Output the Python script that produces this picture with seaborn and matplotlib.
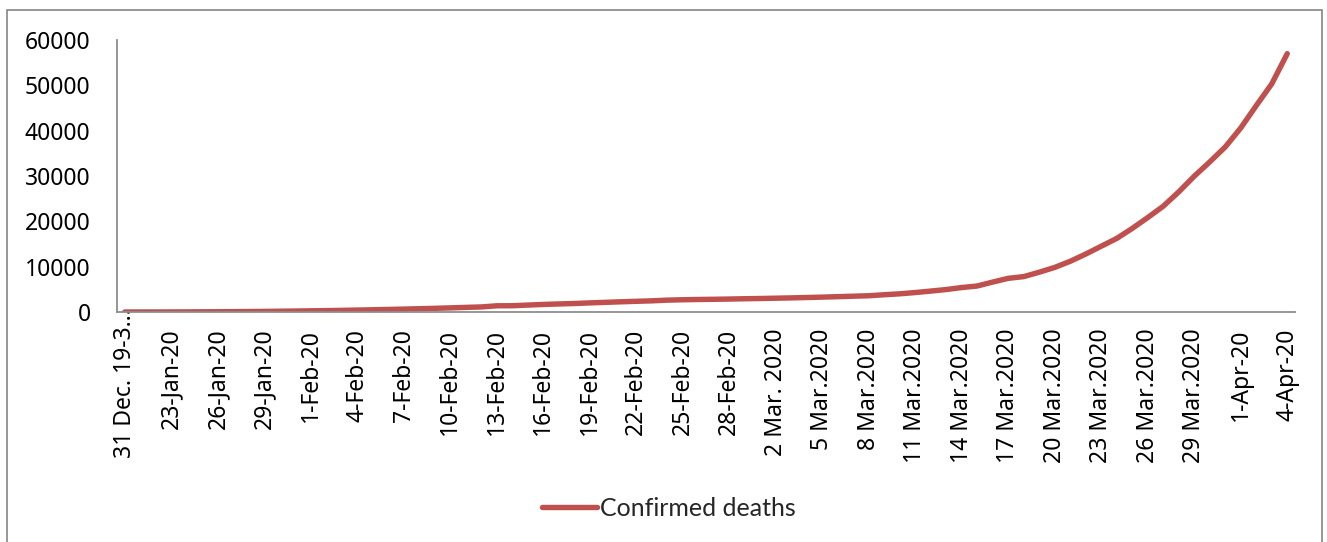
import numpy as np
import pandas as pd
import matplotlib
matplotlib.use("Agg")
import matplotlib.pyplot as plt
from matplotlib.patches import Rectangle
import seaborn as sns

# ---------------- data ----------------
# cumulative confirmed deaths, one value per category (first category is the
# aggregated "31 Dec. 19-3..." bucket, then daily from 21 Jan 2020 to 4 Apr 2020)
deaths = [
    0, 6, 6,
    17, 25, 41, 56, 80, 106, 132, 170, 213,                      # 23-31 Jan
    259, 305, 362, 426, 491, 565, 638, 724, 812, 910,            # 1-10 Feb
    1018, 1115, 1369, 1383, 1526, 1669, 1775, 1873, 2009, 2129,  # 11-20 Feb
    2247, 2359, 2462, 2618, 2700, 2762, 2804, 2858, 2924,        # 21-29 Feb
    2977, 3043, 3112, 3198, 3281, 3380, 3486, 3584, 3809, 4012,  # 1-10 Mar
    4292, 4613, 4955, 5393, 5735, 6606, 7426, 7807, 8778, 9840,  # 11-20 Mar
    11184, 12784, 14510, 16231, 18440, 20834, 23335, 26494,      # 21-28 Mar
    29957, 33106, 36405,                                         # 29-31 Mar
    40598, 45526, 50321, 56985,                                  # 1-4 Apr
]

# category labels that are shown on the axis (every third category)
tick_labels = [
    "31 Dec. 19-3\u2026", "23-Jan-20", "26-Jan-20", "29-Jan-20", "1-Feb-20",
    "4-Feb-20", "7-Feb-20", "10-Feb-20", "13-Feb-20", "16-Feb-20",
    "19-Feb-20", "22-Feb-20", "25-Feb-20", "28-Feb-20", "2 Mar. 2020",
    "5 Mar.2020", "8 Mar.2020", "11 Mar.2020", "14 Mar.2020", "17 Mar.2020",
    "20 Mar.2020", "23 Mar.2020", "26 Mar.2020", "29 Mar.2020", "1-Apr-20",
    "4-Apr-20",
]
label_step = 3
y_ticks = [0, 10000, 20000, 30000, 40000, 50000, 60000]
series_name = "Confirmed deaths"

df = pd.DataFrame({"pos": np.arange(len(deaths)), "deaths": deaths})

# ---------------- figure ----------------
sns.set_theme(style="white")
plt.rcParams["font.family"] = ["Noto Sans", "DejaVu Sans"]

W, H = 1327, 542
fig = plt.figure(figsize=(W / 100, H / 100), dpi=100)
ax = fig.add_axes([117 / W, 1 - 312 / H, (1295 - 117) / W, (312 - 40) / H])

line_color = "#C0504D"
sns.lineplot(data=df, x="pos", y="deaths", ax=ax, color=line_color,
             linewidth=3.9, label=series_name, solid_capstyle="round")

ax.set_xlim(-0.5, len(deaths) - 0.5)
ax.set_ylim(0, 60000)
ax.set_yticks(y_ticks)
ax.set_yticklabels([str(v) for v in y_ticks])
ax.set_xticks(np.arange(0, len(deaths), label_step))
ax.set_xticklabels(tick_labels, rotation=90, va="top", ha="center")
ax.set_xlabel("")
ax.set_ylabel("")

axis_gray = "#8E8E8E"
for side in ["top", "right"]:
    ax.spines[side].set_visible(False)
for side in ["left", "bottom"]:
    ax.spines[side].set_color(axis_gray)
    ax.spines[side].set_linewidth(1.3)

ax.tick_params(axis="y", length=0, pad=19, labelsize=16.5, labelcolor="black")
ax.tick_params(axis="x", length=0, pad=12, labelsize=16.5, labelcolor="black")
ax.grid(False)

# the first (truncated) label sits right against the axis
ticks = ax.xaxis.get_major_ticks()
ticks[0].set_pad(-3)

# legend at bottom centre
ax.legend_.remove()
handles, labels = ax.get_legend_handles_labels()
leg = fig.legend(handles, labels, loc="center", bbox_to_anchor=(669 / W, 1 - 508 / H),
                 frameon=False, handlelength=2.2, handletextpad=0.12,
                 prop={"family": ["Lato", "DejaVu Sans"], "size": 18})

# chart-area border
fig.patches.append(Rectangle((7 / W, -0.02), (1322 - 7) / W, (1 - 10 / H) + 0.02,
                             transform=fig.transFigure, fill=False,
                             edgecolor="#7A7A7A", linewidth=1.1))

fig.savefig("out.png", dpi=100)
